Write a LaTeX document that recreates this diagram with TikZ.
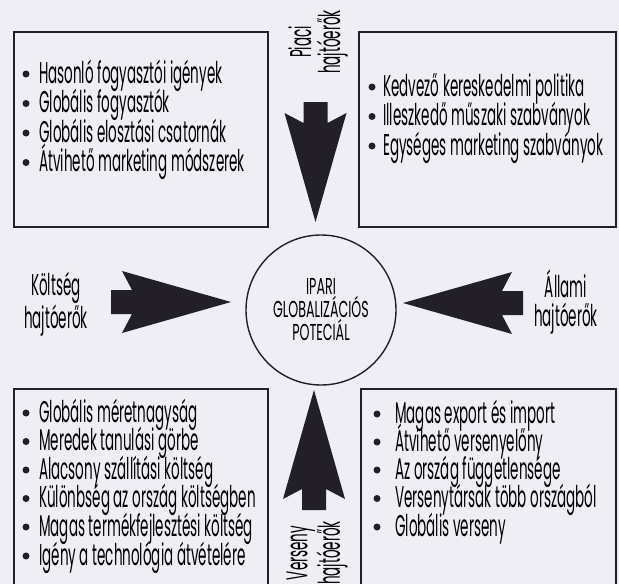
\documentclass[tikz,border=0pt]{standalone}
\usepackage{fontspec}
\setmainfont{Poppins}[FakeStretch=0.45]
\newfontfamily\corefont{Poppins}[FakeStretch=0.55]
\definecolor{paper}{RGB}{238,238,244}
\definecolor{ink}{RGB}{34,32,38}
\tikzset{fatarrow/.pic={\fill[ink] (0,-12)--(21,-12)--(11,-31)--(120,0)--(11,31)--(21,12)--(0,12)--cycle;}}
\begin{document}
\begin{tikzpicture}[x=1pt, y=-1pt, line join=miter, font=\fontsize{30}{26}\selectfont,
    listbox/.style={draw=ink, line width=1.4pt},
    entry/.style={anchor=base west, inner sep=0pt},
    dot/.style={circle, fill=ink, inner sep=0pt, minimum size=7pt},
    drvtext/.style={align=center, inner sep=0pt, font=\fontsize{30}{29}\selectfont}]
    \fill[paper] (0,0) rectangle (619,584);
    \useasboundingbox (0,0) rectangle (619,584);
    % boxes
    \draw[listbox] (14,32) rectangle (268,227);
    \draw[listbox] (359,32) rectangle (616,227);
    \draw[listbox] (14,596) |- (268,389) -- (268,596);
    \draw[listbox] (361,596) |- (616,389) -- (616,596);
    % lists
    \foreach \y/\t [count=\i] in {74/Hasonló fogyasztói igények, 103.5/Globális fogyasztók,
        133/Globális elosztási csatornák, 162.5/Átvihető marketing módszerek}{
        \node[dot] (tld\i) at (26,\y) {};
        \node[entry] (tl\i) at (39,\y+9) {\t};}
    \foreach \y/\t [count=\i] in {87/Kedvező kereskedelmi politika, 116.5/Illeszkedő műszaki szabványok,
        146/Egységes marketing szabványok}{
        \node[dot] (trd\i) at (372,\y) {};
        \node[entry] (tr\i) at (383,\y+9) {\t};}
    \foreach \y/\t [count=\i] in {413/Globális méretnagyság, 441.5/Meredek tanulási görbe,
        470/Alacsony szállítási költség, 498.5/Különbség az ország költségben,
        527/Magas termékfejlesztési költség, 556/Igény a technológia átvételére}{
        \node[dot] (bld\i) at (26,\y) {};
        \node[entry] (bl\i) at (39,\y+9) {\t};}
    \foreach \y/\t [count=\i] in {414/Magas export és import, 442/Átvihető versenyelőny,
        470/Az ország függetlensége, 498.5/Versenytársak több országból, 527/Globális verseny}{
        \node[dot] (brd\i) at (377,\y) {};
        \node[entry] (br\i) at (395,\y+9) {\t};}
    % centre
    \node[draw=ink, line width=1.4pt, circle, minimum size=150pt, inner sep=0pt, align=center,
        font=\corefont\fontsize{23}{23}\selectfont] (core) at (321,310) {IPARI\\GLOBALIZÁCIÓS\\POTECIÁL};
    % drivers
    \pic[rotate=-90] at (315.5,102) {fatarrow};
    \pic[rotate=90] at (314,510) {fatarrow};
    \pic at (111,302) {fatarrow};
    \pic[rotate=180] at (523,303) {fatarrow};
    \node[drvtext, rotate=90] (piaci) at (318,42) {Piaci\\hajtóerők};
    \node[drvtext, rotate=90] (verseny) at (317,553) {Verseny\\hajtóerők};
    \node[drvtext] (koltseg) at (56,304) {Költség\\hajtóerők};
    \node[drvtext] (allami) at (566,302) {Állami\\hajtóerők};
\end{tikzpicture}
\end{document}
